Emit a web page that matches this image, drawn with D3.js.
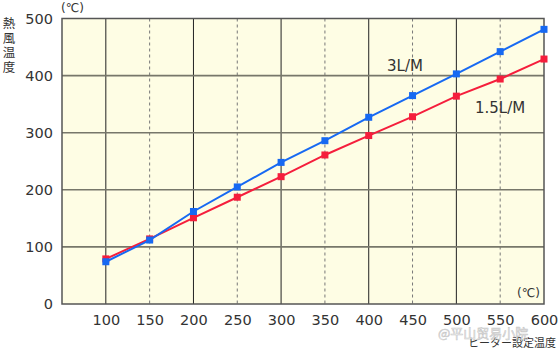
<!DOCTYPE html>
<html><head><meta charset="utf-8">
<script src="https://cdn.jsdelivr.net/npm/d3@7"></script>
<style>body{margin:0;background:#fff}svg{display:block}</style>
</head><body>
<script>
const xTicks = [100,150,200,250,300,350,400,450,500,550,600];
const yTicks = [0,100,200,300,400,500];
const setTemps = [100,150,200,250,300,350,400,450,500,550,600];
const flow3 = [74,112,162,205,248,286,327,365,403,442,481];
const flow15 = [79,114,151,187,223,261,295,328,364,394,429];
const seriesNames = ["3L/M","1.5L/M"];

const W=560,H=351;
const svg=d3.select("body").append("svg").attr("width",W).attr("height",H);
const L=62,R=544,T=18.5,B=304;
const x=d3.scaleLinear().domain([50,600]).range([L,R]);
const y=d3.scaleLinear().domain([0,500]).range([B,T]);
const font="'DejaVu Sans', Verdana, sans-serif";

svg.append("rect").attr("x",L).attr("y",T).attr("width",R-L).attr("height",B-T).attr("fill","#fefde4");

// vertical grid
svg.append("g").selectAll("line").data(xTicks.filter(v=>v<600)).join("line")
  .attr("x1",d=>x(d)).attr("x2",d=>x(d)).attr("y1",T).attr("y2",B)
  .attr("stroke",d=>d%100===0?"#222":"#777")
  .attr("stroke-width",1)
  .attr("stroke-dasharray",d=>d%100===0?null:"3,3");
// horizontal grid
svg.append("g").selectAll("line").data(yTicks.filter(v=>v>0&&v<500)).join("line")
  .attr("x1",L).attr("x2",R).attr("y1",d=>y(d)).attr("y2",d=>y(d))
  .attr("stroke","#77776a").attr("stroke-width",1.6);
// border
svg.append("rect").attr("x",L).attr("y",T).attr("width",R-L).attr("height",B-T)
  .attr("fill","none").attr("stroke","#555").attr("stroke-width",1.5);

// axes
const ya=svg.append("g").attr("transform",`translate(${L},0)`)
  .call(d3.axisLeft(y).tickValues(yTicks).tickSize(0).tickPadding(9));
ya.select(".domain").remove();
ya.selectAll("text").attr("font-family",font).attr("font-size",14.5).attr("fill","#333");
const xa=svg.append("g").attr("transform",`translate(0,${B})`)
  .call(d3.axisBottom(x).tickValues(xTicks).tickSize(0).tickPadding(11));
xa.select(".domain").remove();
xa.selectAll("text").attr("font-family",font).attr("font-size",14.5).attr("fill","#333");

// lines
const data=[{name:seriesNames[1],vals:flow15,color:"#f51e3c"},{name:seriesNames[0],vals:flow3,color:"#1769f2"}];
const line=d3.line().x((d,i)=>x(setTemps[i])).y(d=>y(d));
data.forEach(s=>{
  svg.append("path").attr("d",line(s.vals)).attr("fill","none").attr("stroke",s.color).attr("stroke-width",2);
  svg.append("g").selectAll("rect").data(s.vals).join("rect")
    .attr("x",(d,i)=>x(setTemps[i])-3.5).attr("y",d=>y(d)-3.5)
    .attr("width",7).attr("height",7).attr("fill",s.color);
});

// labels
const tx=(t,xx,yy,size,anchor)=>svg.append("text").text(t).attr("x",xx).attr("y",yy)
  .attr("font-family",font).attr("font-size",size).attr("fill","#333").attr("text-anchor",anchor||"start");
tx(seriesNames[0],387,71,15);
tx(seriesNames[1],475,113,15);
tx("(℃)",61,12,12);
tx("(℃)",517,297,12);
const ytitle="熱風温度".split("");
ytitle.forEach((c,i)=>svg.append("text").text(c).attr("x",9).attr("y",28+i*14.5)
  .attr("font-family","'Noto Sans CJK JP', sans-serif").attr("font-size",12.5).attr("fill","#333").attr("text-anchor","middle"));
svg.append("text").text("ヒーター設定温度").attr("x",556).attr("y",347)
  .attr("font-family","'Noto Sans CJK JP', sans-serif").attr("font-size",11).attr("fill","#333").attr("text-anchor","end");
svg.append("text").text("@平山贸易小院").attr("x",438).attr("y",338)
  .attr("font-family","'Noto Sans CJK SC', sans-serif").attr("font-size",13).attr("fill","#fff").attr("fill-opacity",0.75)
  .attr("stroke","#aaa").attr("stroke-width",0.6).attr("stroke-opacity",0.7);
</script>
</body></html>
